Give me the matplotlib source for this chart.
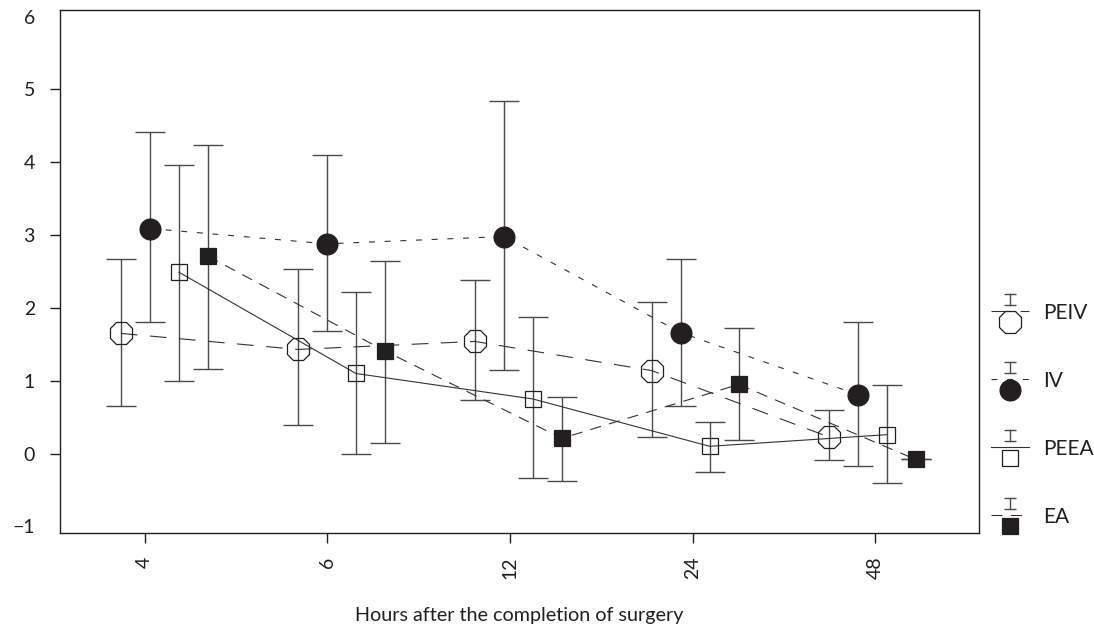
import numpy as np
import matplotlib
matplotlib.use('Agg')
import matplotlib.pyplot as plt
from matplotlib.lines import Line2D
from matplotlib.legend_handler import HandlerBase

plt.rcParams['font.family'] = ['Lato', 'DejaVu Sans']
plt.rcParams['lines.scale_dashes'] = False

# data
hours = ['4', '6', '12', '24', '48']
groups = ['PEIV', 'IV', 'PEEA', 'EA']

peiv_mean = [1.65, 1.43, 1.54, 1.14, 0.23]
peiv_lo = [0.65, 0.39, 0.73, 0.23, -0.09]
peiv_hi = [2.67, 2.54, 2.38, 2.08, 0.60]

iv_mean = [3.09, 2.88, 2.98, 1.66, 0.81]
iv_lo = [1.80, 1.69, 1.15, 0.65, -0.17]
iv_hi = [4.41, 4.10, 4.84, 2.67, 1.80]

peea_mean = [2.49, 1.10, 0.75, 0.10, 0.26]
peea_lo = [0.99, 0.00, -0.33, -0.25, -0.41]
peea_hi = [3.96, 2.22, 1.88, 0.44, 0.94]

ea_mean = [2.71, 1.41, 0.21, 0.95, -0.08]
ea_lo = [1.16, 0.14, -0.37, 0.18, -0.08]
ea_hi = [4.24, 2.65, 0.78, 1.72, -0.08]

means = [peiv_mean, iv_mean, peea_mean, ea_mean]
lows = [peiv_lo, iv_lo, peea_lo, ea_lo]
highs = [peiv_hi, iv_hi, peea_hi, ea_hi]

ink = '#231f20'
ecol = '#4a4a4a'
lcol = '#333333'
styles = [
    dict(marker='8', ms=17, mfc='none', ls=(0, (12, 9))),
    dict(marker='o', ms=15, mfc=ink, ls=(0, (4.3, 7))),
    dict(marker='s', ms=11, mfc='none', ls='-'),
    dict(marker='s', ms=11.5, mfc=ink, ls=(0, (8, 6))),
]


class ErrBarHandler(HandlerBase):
    # line in the middle, small error bar above, marker below
    def create_artists(self, legend, orig, xd, yd, width, height, fontsize, trans):
        st = styles[groups.index(orig.get_label())]
        x0 = -xd
        xc = x0 + width / 2
        yl = -yd + height / 2 + 0.7
        line = Line2D([x0, x0 + width], [yl, yl], color=lcol, lw=0.8,
                      linestyle=st['ls'])
        bar = Line2D([xc, xc], [yl + 4.3, yl + 12], color=ecol, lw=1.0)
        caps = Line2D([xc, xc], [yl + 4.3, yl + 12], ls='none', marker='_',
                      ms=8.6, mew=1.0, color=ecol)
        mk = Line2D([xc], [yl - 7.7], ls='none', marker=st['marker'],
                    ms=st['ms'], mfc=st['mfc'], mec=ink, mew=0.9)
        for a in (line, bar, caps, mk):
            a.set_transform(trans)
        return [line, bar, caps, mk]


fig = plt.figure(figsize=(10.94, 6.28), dpi=100)
ax = fig.add_axes([60 / 1094, 95 / 628, 919 / 1094, 523 / 628])

pos = np.arange(len(hours))
handles = []
for k, name in enumerate(groups):
    x = 0.108 + 0.969 * pos + (k - 1.5) * 0.159
    m = np.array(means[k])
    err = [m - np.array(lows[k]), np.array(highs[k]) - m]
    ax.errorbar(x, m, yerr=err, fmt='none', ecolor=ecol, elinewidth=1.0,
                capsize=10.8, capthick=1.0, zorder=2)
    st = styles[k]
    h, = ax.plot(x, m, color=lcol, lw=0.8, linestyle=st['ls'],
                 marker=st['marker'], ms=st['ms'], mfc=st['mfc'], mec=ink,
                 mew=0.9, zorder=3, label=name)
    handles.append(h)

ax.set_xlim(-0.464, 4.569)
ax.set_ylim(-1.09, 6.09)
ax.set_xticks(pos)
ax.set_xticklabels(hours, rotation=90)
ax.set_yticks(range(-1, 7))
ax.tick_params(axis='both', direction='out', length=7, width=1.0,
               labelsize=14, colors=ink)
ax.tick_params(axis='y', pad=11)
ax.tick_params(axis='x', pad=10)
yt = ax.yaxis.get_major_ticks()
yt[0].tick1line.set_visible(False)
yt[-1].tick1line.set_visible(False)
for s in ax.spines.values():
    s.set_linewidth(1.0)
    s.set_color(ink)

ax.set_xlabel('Hours after the completion of surgery', fontsize=14.2,
              color=ink, labelpad=20)

ax.legend(handles=handles, handler_map={Line2D: ErrBarHandler()},
          loc='center left', bbox_to_anchor=(991 / 1094, 1 - 414 / 628),
          bbox_transform=fig.transFigure, frameon=False, fontsize=15,
          borderpad=0, borderaxespad=0, handlelength=1.83, handleheight=1.8,
          labelspacing=1.85, handletextpad=0.67, labelcolor=ink)

fig.savefig('out.png', dpi=100)
